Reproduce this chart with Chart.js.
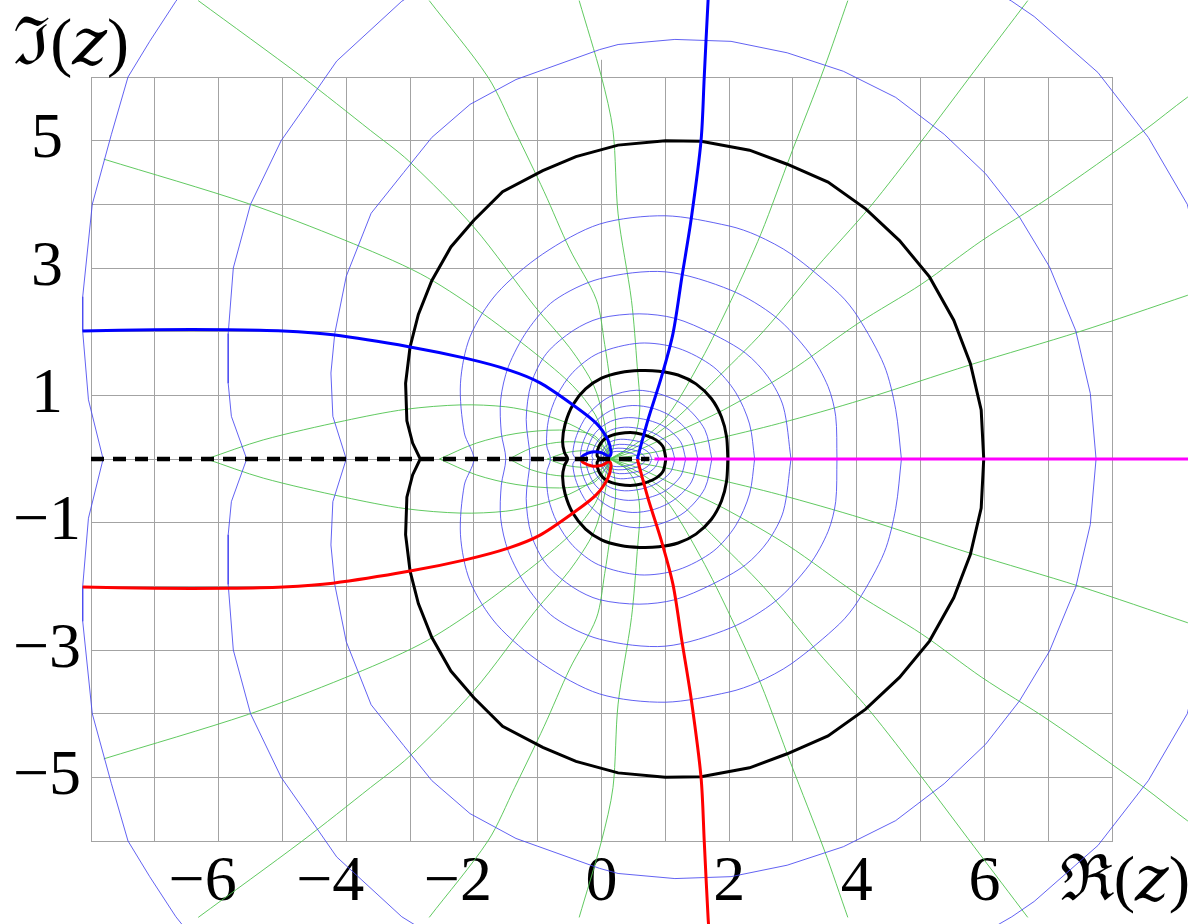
<!DOCTYPE html>
<html>
<head>
<meta charset="utf-8">
<script src="https://cdn.jsdelivr.net/npm/chart.js@4.4.1/dist/chart.umd.min.js"></script>
<style>
  html, body { margin: 0; padding: 0; background: #fff; }
  #wrap { width: 1188px; height: 924px; position: relative; }
</style>
</head>
<body>
<div id="wrap"><canvas id="plot"></canvas></div>
<script>
'use strict';

// axis text
const xTickValues = [-6, -4, -2, 0, 2, 4, 6];
const xTickLabels = ['\u22126', '\u22124', '\u22122', '0', '2', '4', '6'];
const xAxisName = '\u211C(\uD835\uDC67)';
const yTickValues = [5, 3, 1, -1, -3, -5];
const yTickLabels = ['5', '3', '1', '\u22121', '\u22123', '\u22125'];
const yAxisName = '\u2111(\uD835\uDC67)';

// thick black level lines, upper half, from the right crossing to the left one
const bigBlack = [[5.99,0],[5.95,0.77],[5.78,1.5],[5.52,2.18],[5.14,2.86],[4.67,3.43],[4.14,3.93],[3.55,4.35],[2.91,4.63],[2.32,4.85],[1.56,4.99],[1.0,5.0],[0.26,4.93],[-0.4,4.75],[-0.92,4.53],[-1.55,4.2],[-2.0,3.75],[-2.36,3.33],[-2.66,2.8],[-2.87,2.27],[-3.0,1.76],[-3.07,1.19],[-3.05,0.6],[-2.96,0.25],[-2.84,0]];
const midBlack = [[1.98,0],[1.96,0.35],[1.88,0.66],[1.72,0.95],[1.48,1.18],[1.2,1.32],[0.9,1.38],[0.6,1.39],[0.3,1.36],[0.0,1.27],[-0.25,1.1],[-0.45,0.85],[-0.57,0.55],[-0.61,0.28],[-0.58,0.1],[-0.53,0]];
const smallBlack = [[1.01,0],[0.96,0.2],[0.8,0.33],[0.54,0.41],[0.28,0.4],[0.07,0.33],[-0.04,0.2],[-0.07,0.06],[-0.04,0]];

// thin blue level lines, upper half
const blueB4 = [[-6.1,7.9],[-6.67,7.19],[-7.08,6.56],[-7.42,6.0],[-7.68,5.1],[-7.98,4.0],[-8.13,2.55],[-8.13,2.0],[-8.04,0.93],[-7.81,0]];
const blueB3 = [[9.8,0],[9.65,2.0],[9.18,4.0],[8.57,5.05],[7.78,6.07],[6.78,6.95],[6.43,7.19],[5.2,7.9],[3.0,8.5],[1.5,8.65],[0,8.6],[-1.5,8.2],[-3.13,7.19],[-4.15,6.25],[-4.6,5.6],[-5.02,5.0],[-5.5,4.0],[-5.77,3.0],[-5.85,1.97],[-5.85,1.19],[-5.8,0.67],[-5.56,0]];
const blueB2 = [[7.75,0],[7.66,1.03],[7.43,2.02],[7.02,3.02],[6.55,3.8],[6.02,4.48],[5.37,5.1],[4.61,5.68],[3.79,6.09],[2.91,6.38],[2.03,6.56],[1.15,6.59],[0.26,6.51],[-0.03,6.43],[-1.34,5.96],[-2.06,5.57],[-2.66,5.05],[-3.1,4.5],[-3.61,3.86],[-4.0,2.87],[-4.18,1.97],[-4.24,1.35],[-4.21,0.67],[-4.0,0]];
const blueB5 = [[4.7,0],[4.61,0.78],[4.43,1.47],[4.02,2.23],[3.73,2.59],[2.97,3.22],[2.44,3.51],[2.0,3.66],[1.0,3.82],[-0.03,3.69],[-0.92,3.22],[-1.64,2.6],[-2.06,1.92],[-2.21,1.19],[-2.15,0.41],[-2.0,0]];
const blueB6 = [[3.69,0],[3.67,0.67],[3.55,1.14],[3.26,1.66],[2.73,2.23],[2.03,2.65],[1.0,2.94],[-0.03,2.83],[-0.74,2.49],[-1.16,2.02],[-1.46,1.45],[-1.58,0.93],[-1.57,0.41],[-1.5,0]];
const blueB7 = [[2.97,0],[2.85,0.82],[2.61,1.29],[2.26,1.66],[1.73,1.97],[1.15,2.21],[0.59,2.28],[-0.03,2.21],[-0.44,2.02],[-0.86,1.66],[-1.1,1.19],[-1.18,0.62],[-1.12,0]];
const blueB8 = [[2.4,0],[2.32,0.55],[2.1,1.05],[1.75,1.45],[1.2,1.74],[0.6,1.82],[-0.05,1.66],[-0.45,1.36],[-0.7,0.99],[-0.83,0.62],[-0.86,0.22],[-0.8,0]];
const blueI1 = [[1.73,0],[1.62,0.46],[1.31,0.83],[0.95,1.01],[0.55,1.08],[0.13,0.98],[-0.22,0.69],[-0.39,0.37],[-0.45,0.09],[-0.41,0]];
const blueI2 = [[1.51,0],[1.41,0.36],[1.14,0.64],[0.83,0.79],[0.48,0.84],[0.14,0.76],[-0.14,0.54],[-0.28,0.29],[-0.33,0.07],[-0.3,0]];
const blueI3 = [[1.32,0],[1.24,0.27],[1.0,0.5],[0.73,0.61],[0.42,0.65],[0.14,0.59],[-0.09,0.42],[-0.2,0.22],[-0.24,0.06],[-0.22,0]];
const blueI4 = [[1.15,0],[1.08,0.21],[0.87,0.38],[0.63,0.47],[0.36,0.5],[0.14,0.45],[-0.03,0.32],[-0.12,0.17],[-0.15,0.04],[-0.13,0]];
const blueS1 = [[0.9,0],[0.84,0.13],[0.69,0.24],[0.51,0.29],[0.3,0.31],[0.14,0.27],[0.04,0.17],[-0.01,0.07],[-0.01,0]];
const blueS2 = [[0.79,0],[0.74,0.1],[0.61,0.18],[0.45,0.22],[0.28,0.23],[0.15,0.2],[0.06,0.13],[0.03,0.05],[0.03,0]];
const blueS3 = [[0.69,0],[0.65,0.07],[0.54,0.13],[0.41,0.16],[0.26,0.17],[0.15,0.15],[0.08,0.1],[0.06,0.04],[0.06,0]];
const blueS4 = [[0.6,0],[0.56,0.05],[0.47,0.09],[0.36,0.115],[0.24,0.12],[0.15,0.105],[0.1,0.07],[0.08,0.03],[0.08,0]];

// thin green lines, upper half, outer end first
const greenR18 = [[10,2.85],[9.18,2.57],[7.49,2.0],[5.78,1.48],[4.08,0.93],[2.79,0.56],[1.73,0.3],[1.0,0.14],[0.5,0.05],[0.13,0]];
const greenR36 = [[10,6.25],[9.18,5.68],[8.49,5.15],[7.02,4.11],[5.96,3.43],[5.02,2.75],[4.02,2.13],[2.91,1.35],[1.91,0.77],[1.15,0.41],[0.6,0.15],[0.13,0]];
const greenR54 = [[6.68,7.2],[5.84,6.09],[5.02,5.0],[4.2,3.95],[3.38,3.02],[2.55,2.02],[1.73,1.19],[1.15,0.62],[0.6,0.22],[0.13,0]];
const greenR72 = [[3.86,7.2],[3.49,6.14],[2.97,4.79],[2.5,3.54],[2.03,2.49],[1.56,1.55],[1.03,0.67],[0.6,0.28],[0.13,0]];
const greenR90 = [[-0.35,7.2],[0,6.0],[0.18,5.16],[0.26,3.85],[0.47,2.49],[0.56,1.45],[0.6,0.8],[0.52,0.35],[0.33,0.1],[0.13,0]];
const greenR108 = [[-2.7,7.2],[-1.78,6.0],[-1.36,5.16],[-0.9,4.2],[-0.5,3.3],[-0.08,2.5],[0.05,1.8],[0.14,1.19],[0.22,0.6],[0.2,0.25],[0.13,0]];
const greenR126 = [[-6.32,7.2],[-4.69,6.0],[-3.62,5.16],[-3.02,4.68],[-2.0,3.64],[-1.04,2.39],[-0.5,1.75],[-0.12,1.15],[0.04,0.6],[0.1,0.22],[0.13,0]];
const greenR144 = [[-7.8,4.71],[-5.53,4.01],[-4.03,3.44],[-2.84,2.91],[-1.94,2.34],[-1.04,1.66],[-0.45,1.15],[-0.1,0.7],[0.05,0.3],[0.13,0]];
const greenG1 = [[-6.19,0],[-5.3,0.3],[-4.03,0.6],[-3.07,0.78],[-2.2,0.85],[-1.5,0.82],[-1.0,0.72],[-0.5,0.55],[-0.1,0.32],[0.08,0.12],[0.13,0]];
const greenG2 = [[-2.54,0],[-1.96,0.25],[-1.34,0.4],[-0.66,0.455],[-0.14,0.38],[0.05,0.18],[0.13,0]];
const greenG3 = [[-1.45,0],[-1.1,0.17],[-0.7,0.26],[-0.3,0.26],[0.0,0.16],[0.13,0]];
const greenG4 = [[-0.85,0],[-0.55,0.1],[-0.25,0.13],[0.0,0.08],[0.13,0]];

// thick blue curves (the red ones are their mirror images)
const thickLeft = [[-8.13,2.01],[-7.0,2.03],[-5.85,2.03],[-4.99,2.01],[-4.21,1.95],[-3.0,1.76],[-2.12,1.58],[-1.46,1.4],[-0.97,1.2],[-0.42,0.83],[-0.08,0.56],[0.1,0.3],[0.15,0.1],[0.12,0.04],[0.0,0.1],[-0.15,0.11],[-0.28,0.06],[-0.33,0]];
const thickRight = [[0.56,0],[0.73,0.62],[0.94,1.29],[1.12,1.97],[1.26,2.86],[1.41,3.8],[1.56,5.0],[1.61,6.0],[1.67,7.2],[1.7,7.6]];

// real axis cuts
const cutLeft = [[-8,0],[0.75,0]];
const cutRight = [[0.83,0],[9.5,0]];
const zeroTick = [[0,6],[0,6.27]];

const FONT = "'Liberation Serif', 'DejaVu Serif', serif";
const GRID = '#a3a3a3';
const THIN_BLUE = 'rgba(70,70,240,0.85)';
const THIN_GREEN = 'rgba(80,195,80,0.9)';

const datasets = [];

function mirror(pts) {
    return pts.map(p => [p[0], -p[1]]);
}

// upper half plus its reflection, joined into one loop
function closed(upper) {
    return upper.concat(mirror(upper.slice(0, -1).reverse()));
}

function line(pts, color, width, order, extra) {
    datasets.push(Object.assign({
        data: pts.map(p => ({x: p[0], y: p[1]})),
        showLine: true,
        borderColor: color,
        borderWidth: width,
        pointRadius: 0,
        pointHoverRadius: 0,
        pointHitRadius: 0,
        fill: false,
        tension: 0,
        clip: false,
        order: order
    }, extra || {}));
}

[greenR18, greenR36, greenR54, greenR72, greenR90, greenR108, greenR126, greenR144,
 greenG1, greenG2, greenG3, greenG4].forEach(g => {
    line(g, THIN_GREEN, 1, 6, {tension: 0.3});
    line(mirror(g), THIN_GREEN, 1, 6, {tension: 0.3});
});

[blueB4, blueB3, blueB2].forEach(b => line(closed(b), THIN_BLUE, 1, 5));
[blueB5, blueB6, blueB7, blueB8, blueI1, blueI2, blueI3, blueI4,
 blueS1, blueS2, blueS3, blueS4].forEach(b => line(closed(b), THIN_BLUE, 1, 5, {tension: 0.3}));

line(zeroTick, GRID, 1, 7);

line(closed(bigBlack), '#000', 3, 2);
line(closed(midBlack), '#000', 3, 2, {tension: 0.3});
line(closed(smallBlack), '#000', 3, 2, {tension: 0.3});

line(thickLeft, '#0000ff', 3, 1, {tension: 0.3});
line(thickRight, '#0000ff', 3, 1, {tension: 0.3});
line(mirror(thickLeft), '#ff0000', 3, 1, {tension: 0.3});
line(mirror(thickRight), '#ff0000', 3, 1, {tension: 0.3});

line(cutLeft, '#000', 4.5, 0, {borderDash: [13, 9]});
line(cutRight, '#ff00ff', 3, 0);

function xLabel(v) {
    const r = Math.round(v);
    if (r === 8) return '\u2009\u2009' + xAxisName;
    const i = xTickValues.indexOf(r);
    if (i < 0) return '';
    // the minus hangs to the left of the digit
    return r < 0 ? xTickLabels[i] + '\u2007' : xTickLabels[i];
}

function yLabel(v) {
    const i = yTickValues.indexOf(Math.round(v));
    return i < 0 ? '' : yTickLabels[i];
}

new Chart(document.getElementById('plot'), {
    type: 'scatter',
    data: {datasets: datasets},
    options: {
        responsive: true,
        maintainAspectRatio: false,
        animation: false,
        events: [],
        layout: {padding: {left: 0, right: 76, top: 0, bottom: 0}},
        plugins: {
            legend: {display: false},
            tooltip: {enabled: false},
            title: {
                display: true,
                text: '\u2009' + yAxisName,
                align: 'start',
                color: '#000',
                font: {family: FONT, size: 66, weight: 'normal', lineHeight: 0.9},
                padding: {top: 17, bottom: 0.6}
            }
        },
        scales: {
            x: {
                type: 'linear',
                min: -8,
                max: 8,
                ticks: {
                    stepSize: 1,
                    autoSkip: false,
                    maxRotation: 0,
                    minRotation: 0,
                    padding: 4,
                    color: '#000',
                    font: {family: FONT, size: 64},
                    callback: xLabel
                },
                grid: {color: GRID, lineWidth: 1, drawTicks: false},
                border: {color: GRID, width: 1},
                afterFit: s => { s.height = 83; s.paddingLeft = 0; s.paddingRight = 0; }
            },
            y: {
                type: 'linear',
                min: -6,
                max: 6,
                ticks: {
                    stepSize: 1,
                    autoSkip: false,
                    padding: 10,
                    crossAlign: 'center',
                    color: '#000',
                    font: {family: FONT, size: 64},
                    callback: yLabel
                },
                grid: {color: GRID, lineWidth: 1, drawTicks: false},
                border: {color: GRID, width: 1},
                afterFit: s => { s.width = 91; s.paddingTop = 0; s.paddingBottom = 0; }
            }
        }
    }
});
</script>
</body>
</html>
